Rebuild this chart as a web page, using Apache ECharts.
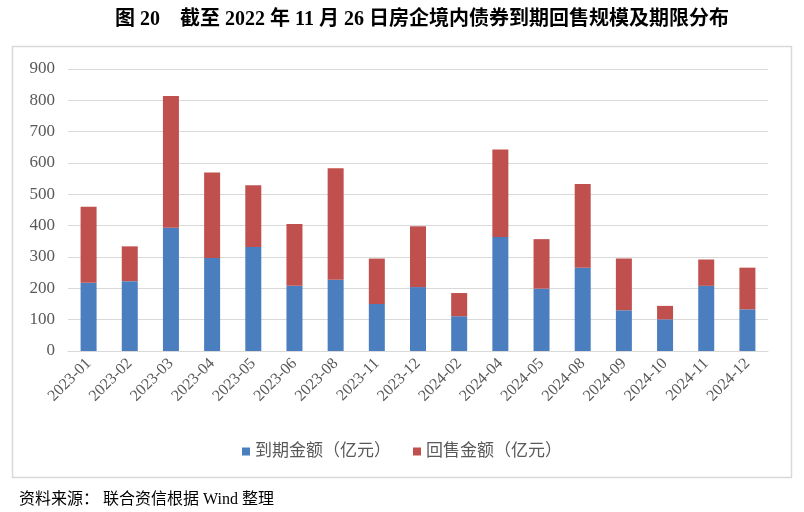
<!DOCTYPE html>
<html>
<head>
<meta charset="utf-8">
<script src="https://cdn.jsdelivr.net/npm/echarts@6/dist/echarts.min.js"></script>
<style>
  html, body { margin: 0; padding: 0; background: #fff; }
  #main { width: 804px; height: 512px; }
</style>
</head>
<body>
<div id="main"></div>
<script>
// 月份
var months = ['2023-01', '2023-02', '2023-03', '2023-04', '2023-05', '2023-06', '2023-08', '2023-11', '2023-12',
              '2024-02', '2024-04', '2024-05', '2024-08', '2024-09', '2024-10', '2024-11', '2024-12'];
// 到期金额（亿元）
var dueAmount = [218, 223, 393, 297, 332, 208, 227, 150, 204, 111, 364, 199, 266, 130, 101, 208, 133];
// 回售金额（亿元）
var putAmount = [242, 111, 421, 273, 197, 197, 356, 145, 194, 74, 279, 158, 267, 165, 43, 84, 133];
var yTicks = { min: 0, max: 900, interval: 100 };

var serif = '"Liberation Serif", "Noto Sans CJK SC", serif';
var chart = echarts.init(document.getElementById('main'));

var option = {
    animation: false,
    backgroundColor: '#fff',
    title: [{
        text: '图 20    截至 2022 年 11 月 26 日房企境内债券到期回售规模及期限分布',
        left: 110,
        top: 5,
        textStyle: { fontFamily: serif, fontSize: 20, fontWeight: 'bold', color: '#000' }
    }, {
        text: '资料来源： 联合资信根据 Wind 整理',
        left: 14,
        top: 487,
        textStyle: { fontFamily: serif, fontSize: 16, fontWeight: 'normal', color: '#000' }
    }],
    graphic: [{
        type: 'rect',
        shape: { x: 12.5, y: 46.5, width: 779, height: 431 },
        style: { fill: 'none', stroke: '#d9d9d9', lineWidth: 1.5 },
        silent: true
    }],
    legend: {
        data: ['到期金额（亿元）', '回售金额（亿元）'],
        left: 'center',
        top: 438,
        icon: 'rect',
        itemWidth: 8,
        itemHeight: 8,
        itemGap: 22,
        textStyle: { fontFamily: serif, fontSize: 17, color: '#595959' }
    },
    grid: { left: 68, right: 36, top: 69, bottom: 161 },
    xAxis: {
        type: 'category',
        data: months,
        axisLine: { lineStyle: { color: '#d9d9d9' } },
        axisTick: { show: false },
        axisLabel: {
            rotate: 45,
            interval: 0,
            margin: 10,
            fontFamily: serif,
            fontSize: 16,
            color: '#595959'
        }
    },
    yAxis: {
        type: 'value',
        min: yTicks.min,
        max: yTicks.max,
        interval: yTicks.interval,
        axisLine: { show: false },
        axisTick: { show: false },
        splitLine: { lineStyle: { color: '#d9d9d9' } },
        axisLabel: { fontFamily: serif, fontSize: 17, color: '#595959', margin: 13 }
    },
    series: [{
        name: '到期金额（亿元）',
        type: 'bar',
        stack: 'total',
        barWidth: 16,
        itemStyle: { color: '#4a7ebf' },
        data: dueAmount
    }, {
        name: '回售金额（亿元）',
        type: 'bar',
        stack: 'total',
        barWidth: 16,
        itemStyle: { color: '#c0504d' },
        data: putAmount
    }]
};

chart.setOption(option);
</script>
</body>
</html>
